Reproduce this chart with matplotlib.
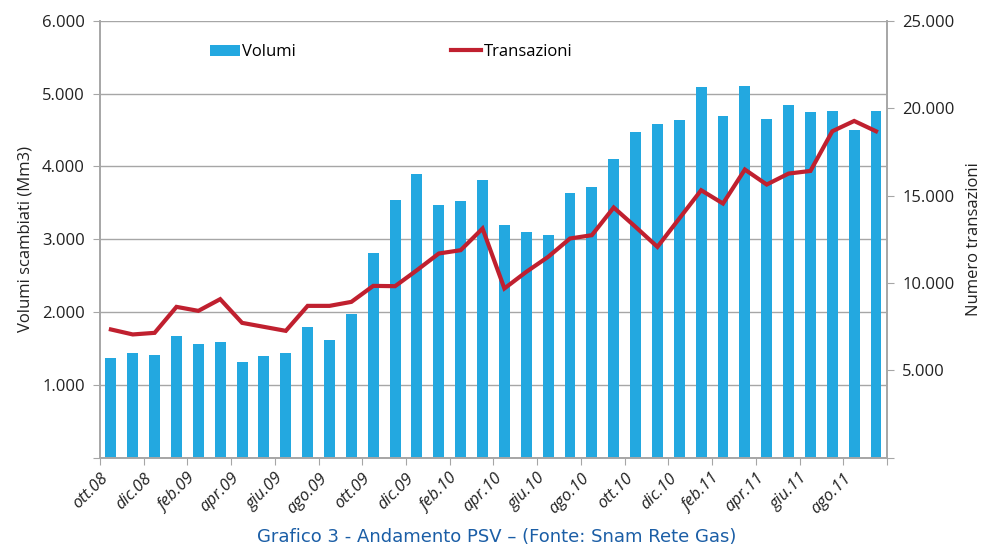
import matplotlib.pyplot as plt
from matplotlib.ticker import FuncFormatter

# monthly data ott.08 - set.11
months = ['ott.08', 'dic.08', 'feb.09', 'apr.09', 'giu.09', 'ago.09',
          'ott.09', 'dic.09', 'feb.10', 'apr.10', 'giu.10', 'ago.10',
          'ott.10', 'dic.10', 'feb.11', 'apr.11', 'giu.11', 'ago.11']
volumi = [1371, 1440, 1412, 1673, 1563, 1591, 1316, 1398, 1440, 1797,
          1618, 1975, 2813, 3537, 3898, 3468, 3523, 3812, 3194, 3102,
          3056, 3637, 3720, 4100, 4471, 4581, 4636, 5089, 4691, 5103,
          4654, 4842, 4746, 4760, 4503, 4760]
transazioni = [7334, 7048, 7140, 8627, 8398, 9068, 7712, 7483, 7254, 8684,
               8684, 8913, 9828, 9811, 10727, 11682, 11871, 13112, 9680,
               10630, 11488, 12540, 12729, 14313, 13204, 12060, 13684,
               15303, 14542, 16487, 15629, 16258, 16407, 18679, 19268, 18679]

plt.rcParams['font.family'] = ['Open Sans', 'DejaVu Sans']
grey = '#a6a6a6'


def thousands(v, pos):
    if v == 0:
        return ''
    return f'{int(v):,}'.replace(',', '.')


fig = plt.figure(figsize=(9.83, 5.48), dpi=100)
ax = fig.add_axes([0.1017, 0.165, 0.8006, 0.797])
ax2 = ax.twinx()

x = list(range(len(volumi)))
bars = ax.bar(x, volumi, width=0.5, color='#23a8e0', label='Volumi', zorder=2)
line, = ax2.plot(x, transazioni, color='#c0202f', linewidth=3,
                 label='Transazioni', solid_joinstyle='miter')

ax.set_ylim(0, 6000)
ax.set_yticks(range(0, 6001, 1000))
ax.yaxis.set_major_formatter(FuncFormatter(thousands))
ax2.set_ylim(0, 25000)
ax2.set_yticks(range(0, 25001, 5000))
ax2.yaxis.set_major_formatter(FuncFormatter(thousands))

ax.set_xlim(-0.5, len(volumi) - 0.5)
ticks = [i - 0.5 for i in range(0, len(volumi) + 1, 2)]
ax.set_xticks(ticks)
ax.set_xticklabels(months + [''], rotation=45, ha='right',
                   rotation_mode='anchor', fontsize=12, style='italic',
                   color='#222222')

ax.grid(axis='y', color=grey, linewidth=1, zorder=0)
ax.set_axisbelow(True)
for a in (ax, ax2):
    a.spines['top'].set_visible(False)
    for s in ('left', 'right', 'bottom'):
        a.spines[s].set_color(grey)
        a.spines[s].set_linewidth(1.2)
    a.tick_params(colors=grey, labelcolor='#222222', labelsize=12, length=5,
                  pad=6)
ax.tick_params(axis='x', labelsize=12, pad=4)

ax.set_ylabel('Volumi scambiati (Mm3)', fontsize=12, color='#222222', labelpad=6)
ax2.set_ylabel('Numero transazioni', fontsize=12, color='#222222', labelpad=8)

ax.legend([bars, line], ['Volumi', 'Transazioni'], loc='center',
          bbox_to_anchor=(0.37, 0.928), ncol=2, frameon=False, fontsize=12,
          columnspacing=9.3, handlelength=1.8, handletextpad=0.15)

fig.text(0.505, 0.02, 'Grafico 3 - Andamento PSV \u2013 (Fonte: Snam Rete Gas)',
         ha='center', va='center', fontsize=13, color='#1b5ea6',
         family=['Liberation Sans Narrow', 'DejaVu Sans'])

fig.savefig('out.png', dpi=100)
